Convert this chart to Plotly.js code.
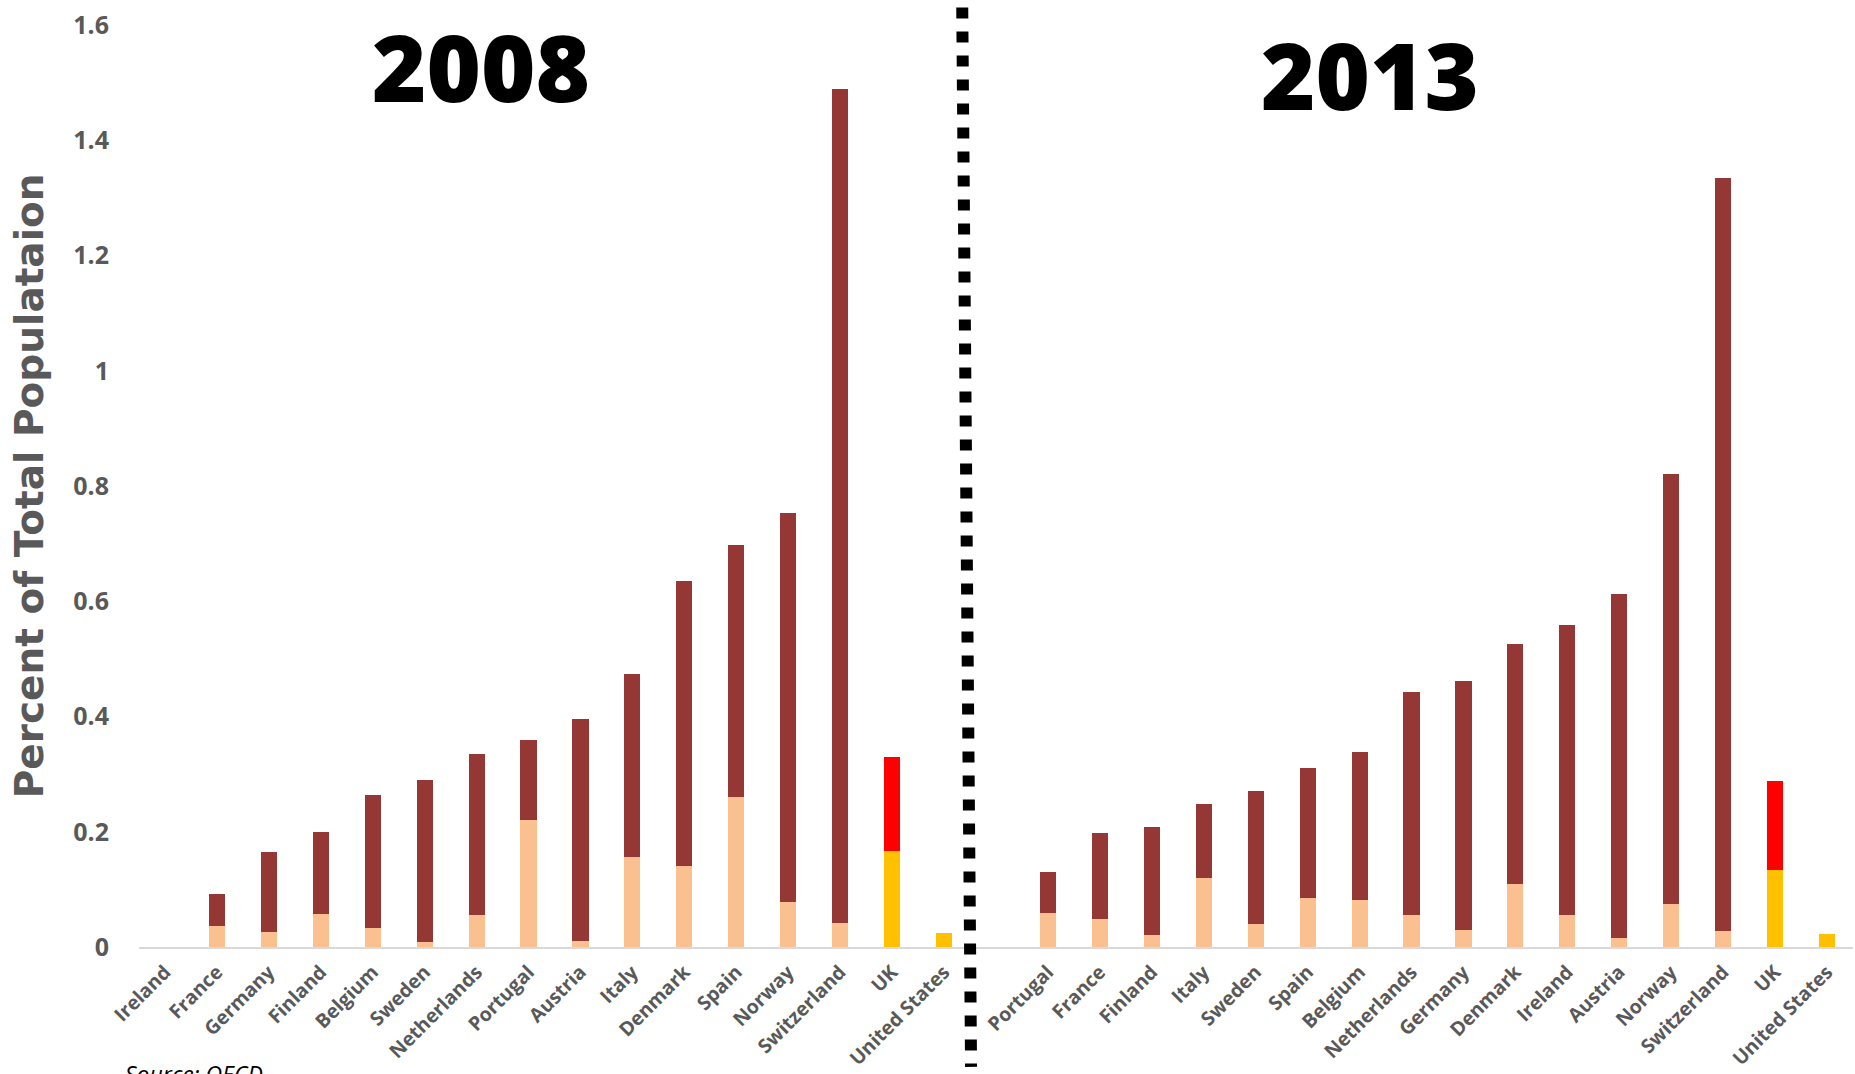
<!DOCTYPE html>
<html>
<head>
<meta charset="utf-8">
<script src="https://cdn.plot.ly/plotly-3.0.1.min.js"></script>
<style>html,body{margin:0;padding:0;background:#fff;}#chart{width:1855px;height:1074px;}</style>
</head>
<body>
<div id="chart"></div>
<script>
// ---- Data (percent of total population) ----
const countries2008 = ['Ireland','France','Germany','Finland','Belgium','Sweden','Netherlands','Portugal','Austria','Italy','Denmark','Spain','Norway','Switzerland','UK','United States'];
const total2008 = [0, 0.092, 0.165, 0.200, 0.263, 0.290, 0.335, 0.360, 0.396, 0.473, 0.636, 0.697, 0.754, 1.489, 0.330, 0.024];
const lower2008 = [0, 0.037, 0.026, 0.057, 0.033, 0.009, 0.055, 0.221, 0.010, 0.156, 0.141, 0.261, 0.078, 0.042, 0.167, 0.024];

const countries2013 = ['Portugal','France','Finland','Italy','Sweden','Spain','Belgium','Netherlands','Germany','Denmark','Ireland','Austria','Norway','Switzerland','UK','United States'];
const total2013 = [0.130, 0.198, 0.209, 0.249, 0.270, 0.310, 0.338, 0.443, 0.462, 0.526, 0.559, 0.612, 0.820, 1.334, 0.288, 0.023];
const lower2013 = [0.059, 0.049, 0.020, 0.120, 0.040, 0.085, 0.081, 0.055, 0.029, 0.109, 0.056, 0.015, 0.075, 0.027, 0.134, 0.023];

const yTicks = [0, 0.2, 0.4, 0.6, 0.8, 1, 1.2, 1.4, 1.6];
const yearLabels = ['2008', '2013'];
const sourceNote = 'Source: OECD';
const yTitle = 'Percent of Total Populataion';

// ---- Build combined axis: 2008 group, one empty slot, 2013 group ----
const labels = countries2008.concat(['']).concat(countries2013);
const lower = lower2008.concat([null]).concat(lower2013);
const total = total2008.concat([null]).concat(total2013);
const xs = labels.map((_, i) => i);
const upper = total.map((t, i) => t === null ? null : +(t - lower[i]).toFixed(4));

const C_DARK = '#953735', C_LIGHT = '#FAC090', C_RED = '#FF0000', C_YEL = '#FFC000';
const lowerColors = labels.map(l => (l === 'UK' || l === 'United States') ? C_YEL : C_LIGHT);
const upperColors = labels.map(l => l === 'UK' ? C_RED : C_DARK);

const traces = [
  {type:'bar', x: xs, y: lower, marker:{color: lowerColors}, hoverinfo:'skip', showlegend:false},
  {type:'bar', x: xs, y: upper, marker:{color: upperColors}, hoverinfo:'skip', showlegend:false}
];

const tickColor = '#595959';
const layout = {
  width: 1855, height: 1074,
  margin: {l:139, r:2, t:25, b:127, pad:0},
  paper_bgcolor:'#ffffff', plot_bgcolor:'#ffffff',
  barmode:'stack', bargap:0.69,
  showlegend:false,
  xaxis: {
    range:[-0.5, labels.length - 0.5],
    tickmode:'array', tickvals: xs, ticktext: labels,
    tickangle:-45,
    tickfont:{family:'Open Sans', size:19.5, color:tickColor, weight:700},
    showgrid:false, zeroline:false,
    showline:true, linecolor:'#D9D9D9', linewidth:2,
    ticks:'', ticklabelstandoff: 4
  },
  yaxis: {
    range:[0, 1.6],
    tickmode:'array', tickvals: yTicks, ticktext: yTicks.map(String),
    tickfont:{family:'Open Sans', size:25, color:tickColor, weight:700},
    showgrid:false, zeroline:false, showline:false, ticks:'',
    ticklabelstandoff: 29
  },
  annotations: [
    {text: yearLabels[0], xref:'paper', yref:'paper', x:0.1995, y:0.956, xanchor:'center', yanchor:'middle', showarrow:false,
     font:{family:'Open Sans', size:93, color:'#000000', weight:800}},
    {text: yearLabels[1], xref:'paper', yref:'paper', x:0.718, y:0.947, xanchor:'center', yanchor:'middle', showarrow:false,
     font:{family:'Open Sans', size:93, color:'#000000', weight:800}},
    {text: yTitle, xref:'paper', yref:'paper', x:-0.064, y:0.5, xanchor:'center', yanchor:'middle', textangle:-90, showarrow:false,
     font:{family:'DejaVu Sans', size:39, color:tickColor, weight:700}},
    {text: sourceNote, xref:'paper', yref:'paper', x:-0.0093, y:-0.118, xanchor:'left', yanchor:'top', showarrow:false,
     font:{family:'Open Sans', size:23, color:'#000000', style:'italic'}}
  ],
  shapes: [
    {type:'line', xref:'x', yref:'paper', x0:15.35, x1:15.52, y0:1.019, y1:-0.13,
     line:{color:'#000000', width:12, dash:'11px,13px'}}
  ]
};

Plotly.newPlot('chart', traces, layout, {staticPlot:true, displayModeBar:false});
</script>
</body>
</html>
